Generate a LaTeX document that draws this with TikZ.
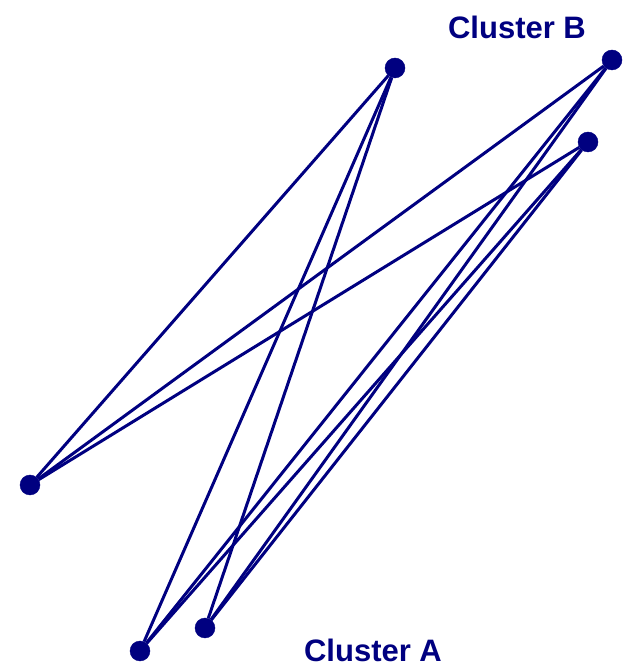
\documentclass[tikz,border=0pt]{standalone}
\usepackage{fontspec}
\setmainfont{Liberation Sans}
\usepackage{tikz}

\begin{document}
\begin{tikzpicture}[x=1pt, y=1pt]
            \definecolor{navy}{RGB}{0,0,128}
            \tikzstyle{vertex}=[circle, draw=navy, fill=navy, minimum size=20pt, inner sep=0pt]
            \tikzstyle{edge}=[draw=navy, line width=3pt]
            \tikzstyle{label}=[text=navy, inner sep=0pt, font=\fontsize{31}{35}\selectfont\bfseries]

            \useasboundingbox (0,0) rectangle (623,667);

            \node[vertex] (b1) at (395,599) {};
            \node[vertex] (b2) at (612,607) {};
            \node[vertex] (b3) at (588,525) {};

            \node[vertex] (a1) at (30,182) {};
            \node[vertex] (a2) at (140,16) {};
            \node[vertex] (a3) at (205,39) {};

            \node[label] (labB) at (517,640) {Cluster B};
            \node[label] (labA) at (373,17) {Cluster A};

            \draw[edge] (a1) -- (b1);
            \draw[edge] (a1) -- (b2);
            \draw[edge] (a1) -- (b3);
            \draw[edge] (a2) -- (b1);
            \draw[edge] (a2) -- (b2);
            \draw[edge] (a2) -- (b3);
            \draw[edge] (a3) -- (b1);
            \draw[edge] (a3) -- (b2);
            \draw[edge] (a3) -- (b3);
        \end{tikzpicture}
\end{document}
